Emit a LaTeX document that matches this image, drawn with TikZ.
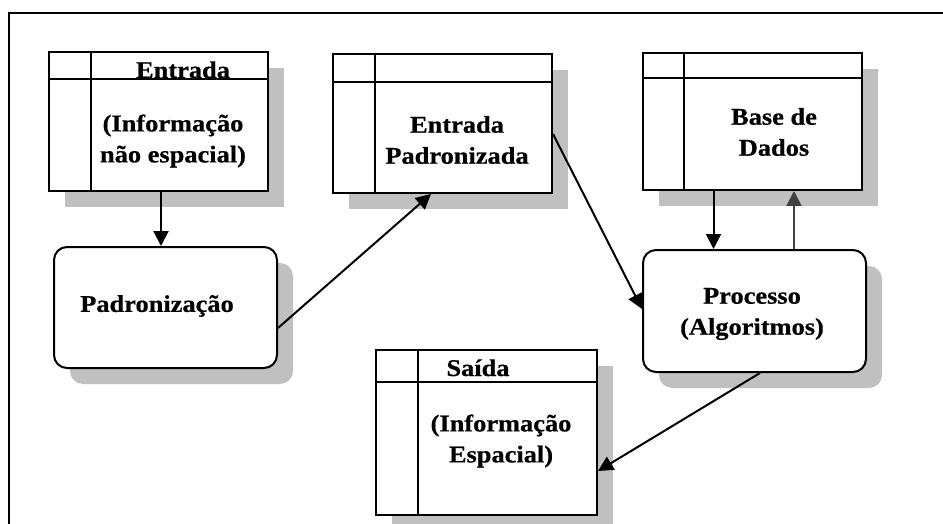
\documentclass[tikz,border=0pt]{standalone}
\usepackage{fontspec}
\setmainfont{Liberation Serif}[FakeStretch=1.1,FakeBold=0.6]
\usetikzlibrary{shadows,arrows.meta}
\definecolor{shadowgray}{HTML}{C0C0C0}
\definecolor{upgray}{HTML}{404040}
\begin{document}
\begin{tikzpicture}[x=1pt,y=-1pt,
  lw/.style={line width=2pt},
  shad/.style={drop shadow={shadow xshift=16pt,shadow yshift=-16pt,fill=shadowgray,opacity=1}},
  tbl/.style={draw,lw,fill=white,rectangle,inner sep=0pt,anchor=north west,shad},
  proc/.style={draw,lw,fill=white,rectangle,rounded corners=13pt,inner sep=0pt,anchor=north west,shad},
  txt/.style={font=\fontsize{24}{31}\selectfont\bfseries,align=center,inner sep=0pt},
  arr/.style={lw,-{Triangle[length=15pt,width=15pt]}}]
\useasboundingbox (0,0) rectangle (943,524);
% frame
\draw[line width=2.4pt] (9,524) -- (9,13) -- (943,13);
% boxes
\node[tbl,minimum width=219pt,minimum height=139pt] (b1) at (48,51) {};
\node[tbl,minimum width=219pt,minimum height=139pt] (b2) at (332,53) {};
\node[tbl,minimum width=219pt,minimum height=137pt] (b3) at (642,52) {};
\node[tbl,minimum width=221pt,minimum height=165pt] (b5) at (375,349) {};
\node[proc,minimum width=223pt,minimum height=121pt] (pad) at (53,246) {};
\node[proc,minimum width=223pt,minimum height=122pt] (pr) at (642,249) {};
% table lines
\draw[lw] ([yshift=-28pt]b1.north west) -- ([yshift=-28pt]b1.north east);
\draw[lw] ([xshift=43pt]b1.north west) -- ([xshift=43pt]b1.south west);
\draw[lw] ([yshift=-29pt]b2.north west) -- ([yshift=-29pt]b2.north east);
\draw[lw] ([xshift=43pt]b2.north west) -- ([xshift=43pt]b2.south west);
\draw[lw] ([yshift=-26pt]b3.north west) -- ([yshift=-26pt]b3.north east);
\draw[lw] ([xshift=42pt]b3.north west) -- ([xshift=42pt]b3.south west);
\draw[lw] ([yshift=-33pt]b5.north west) -- ([yshift=-33pt]b5.north east);
\draw[lw] ([xshift=43pt]b5.north west) -- ([xshift=43pt]b5.south west);
% texts
\node[txt,anchor=base] (t1a) at (183,78) {Entrada};
\node[txt] (t1b) at (173,141) {(Informação\\não espacial)};
\node[txt] (t2) at (457,140) {Entrada\\Padronizada};
\node[txt] (t3) at (774,132) {Base de\\Dados};
\node[txt] (tp) at (157,306) {Padronização};
\node[txt] (tr) at (752,314) {Processo\\(Algoritmos)};
\node[txt,anchor=base] (t5a) at (478,376) {Saída};
\node[txt] (t5b) at (501,441) {(Informação\\Espacial)};
% connectors
\draw[arr] ([xshift=2.5pt]b1.south) -- ([xshift=2.5pt]b1.south |- pad.north);
\draw[arr] ([yshift=-20.5pt]pad.east) -- ([xshift=-11.5pt]b2.south);
\draw[arr] ([yshift=-10.5pt]b2.east) -- ([yshift=2pt]pr.west);
\draw[arr] ([xshift=-39pt]b3.south) -- ([xshift=-39pt]b3.south |- pr.north);
\draw[arr,draw=upgray,fill=upgray] ([xshift=41.5pt]b3.south |- pr.north) -- ([xshift=41.5pt]b3.south);
\draw[arr] ([xshift=5.5pt]pr.south) -- ([yshift=-38.5pt]b5.east);
\end{tikzpicture}
\end{document}
